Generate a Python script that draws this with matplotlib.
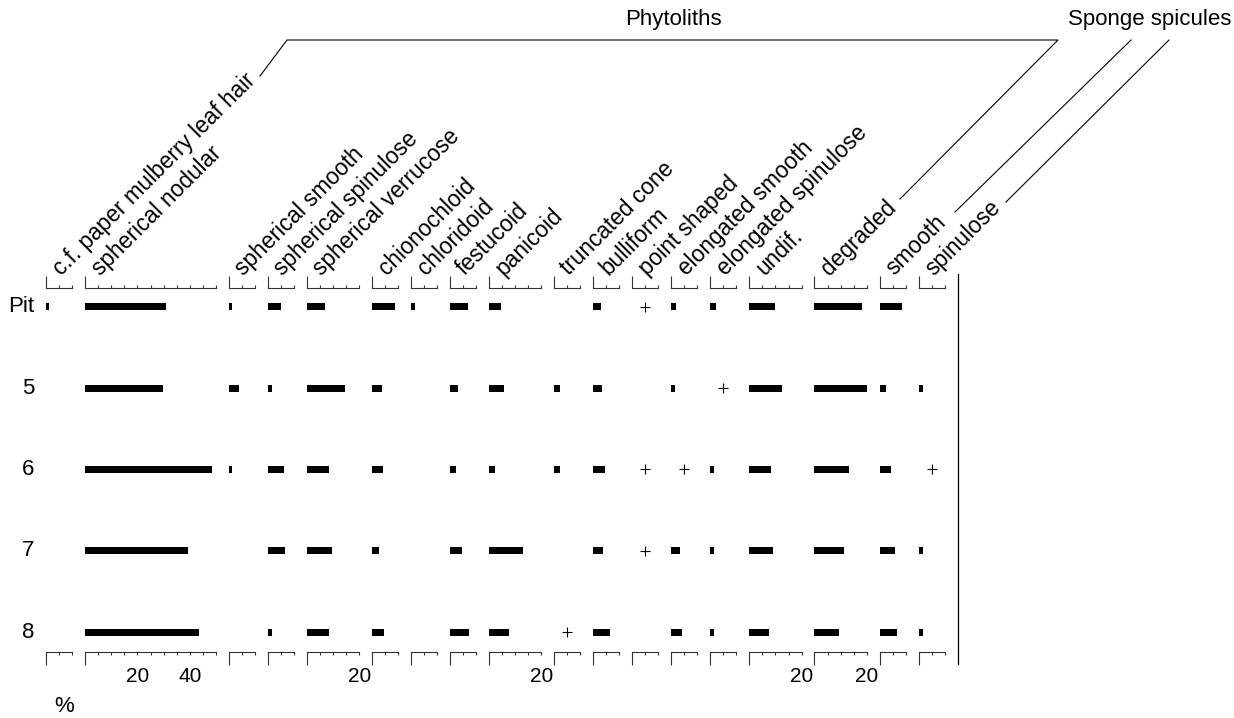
import matplotlib
matplotlib.use("Agg")
import matplotlib.pyplot as plt
from matplotlib.lines import Line2D
import numpy as np

plt.rcParams['font.family'] = ['Liberation Sans', 'DejaVu Sans']

# ---------------- data ----------------
samples = ['Pit', '5', '6', '7', '8']
taxa = ['c.f. paper mulberry leaf hair', 'spherical nodular', 'spherical smooth',
        'spherical spinulose', 'spherical verrucose', 'chionochloid', 'chloridoid',
        'festucoid', 'panicoid', 'truncated cone', 'bulliform', 'point shaped',
        'elongated smooth', 'elongated spinulose', 'undif.', 'degraded',
        'smooth', 'spinulose']
axis_max = [10, 50, 10, 10, 20, 10, 10, 10, 20, 10, 10, 10, 10, 10, 20, 20, 10, 10]

# percentages per sample (same order as taxa)
pct_pit = [1.2, 31.0, 1.2, 5.0, 6.8, 8.7, 1.5, 6.9, 4.4, 0, 3.1, 0, 1.9, 2.3, 9.7, 18.2, 8.6, 0]
pct_5   = [0, 29.8, 3.9, 1.6, 14.4, 3.8, 0, 3.0, 5.8, 2.3, 3.3, 0, 1.3, 0, 12.7, 20.0, 2.4, 1.5]
pct_6   = [0, 48.4, 1.1, 6.2, 8.3, 4.3, 0, 2.1, 2.1, 2.3, 4.6, 0, 0, 1.5, 8.4, 13.2, 4.4, 0]
pct_7   = [0, 39.3, 0, 6.5, 9.6, 2.7, 0, 4.7, 13.0, 0, 3.8, 0, 3.2, 1.4, 9.1, 11.4, 5.7, 1.5]
pct_8   = [0, 43.7, 0, 1.5, 8.4, 4.4, 0, 7.3, 7.5, 0, 6.5, 0, 4.2, 1.4, 7.5, 9.4, 6.7, 1.5]
values = [pct_pit, pct_5, pct_6, pct_7, pct_8]

# taxa present only in trace amounts (drawn as "+")
rare_pit = ['point shaped']
rare_5 = ['elongated spinulose']
rare_6 = ['point shaped', 'elongated smooth', 'spinulose']
rare_7 = ['point shaped']
rare_8 = ['truncated cone']
rare = [rare_pit, rare_5, rare_6, rare_7, rare_8]
trace_pos = 5

groups = ['Phytoliths', 'Sponge spicules']

# ---------------- layout ----------------
W, H = 1234, 718
fig = plt.figure(figsize=(W / 100, H / 100), dpi=100)

x0 = 46.0        # px, left edge of first panel
px_per = 2.62    # px per percent
gap = 12.8       # px between panels
y_top = 288.0    # px, top axis line
y_bot = 652.0    # px, bottom axis line
row_first, row_step = 306.7, 81.4
fs = 16

def fx(px):
    return px / W

def fy(py):
    return 1 - py / H

ylim_top = -(row_first - y_top) / row_step
ylim_bot = (y_bot - row_first) / row_step
bar_h = 7.0 / row_step
axis_col = '#333333'

cur = x0
for j, (taxon, mx) in enumerate(zip(taxa, axis_max)):
    w = mx * px_per
    ax = fig.add_axes([fx(cur), fy(y_bot), w / W, (y_bot - y_top) / H])
    ax.set_xlim(0, mx)
    ax.set_ylim(ylim_bot, ylim_top)
    ax.patch.set_visible(False)
    for s in ['left', 'right']:
        ax.spines[s].set_visible(False)
    for s in ['top', 'bottom']:
        ax.spines[s].set_color(axis_col)
        ax.spines[s].set_linewidth(0.8)
    ax.set_yticks([])
    ax.set_xticks([0])
    ax.set_xticklabels([''])
    minor = np.arange(5, mx + 0.1, 5)
    ax.set_xticks(minor, minor=True)
    ax.set_xticklabels([str(int(v)) if v % 20 == 0 else '' for v in minor],
                       minor=True, fontsize=fs - 1)
    ax.tick_params(axis='x', which='major', direction='out', length=9,
                   width=0.8, color=axis_col, top=True, bottom=True,
                   labeltop=False, labelbottom=False)
    ax.tick_params(axis='x', which='minor', direction='out', length=2.5,
                   width=0.8, color=axis_col, top=True, bottom=True,
                   labeltop=False, labelbottom=True, pad=8.5)

    vals = [values[i][j] for i in range(len(samples))]
    rows = np.arange(len(samples))
    ax.barh(rows, vals, height=bar_h, left=0, color='black', linewidth=0)
    for i in range(len(samples)):
        if taxon in rare[i]:
            ax.plot([trace_pos], [i], marker='+', ms=7.5,
                    mew=0.8, color='black', clip_on=False)

    fig.text(fx(cur + 15), fy(276), taxon, rotation=45, rotation_mode='anchor',
             ha='left', va='baseline', fontsize=fs + 0.3)
    cur += w + gap

# right-hand vertical line
fig.add_artist(Line2D([fx(cur), fx(cur)], [fy(274), fy(664)], color='black', lw=0.9))

# sample labels
for i, s in enumerate(samples):
    fig.text(fx(34), fy(row_first + i * row_step), s, ha='right', va='center', fontsize=fs)

fig.text(fx(64), fy(706), '%', ha='center', va='center', fontsize=fs)

# group labels and brackets
fig.text(fx(673), fy(20), groups[0], ha='center', va='center', fontsize=fs)
fig.text(fx(1150), fy(20), groups[1], ha='center', va='center', fontsize=fs)

def poly(pts):
    xs = [fx(p[0]) for p in pts]
    ys = [fy(p[1]) for p in pts]
    fig.add_artist(Line2D(xs, ys, color='black', lw=0.8))

poly([(260, 76), (287, 40), (1058, 40), (900, 199)])
poly([(955, 212), (1131, 40)])
poly([(1006, 202), (1169, 40)])

fig.savefig('out.png', dpi=100)
